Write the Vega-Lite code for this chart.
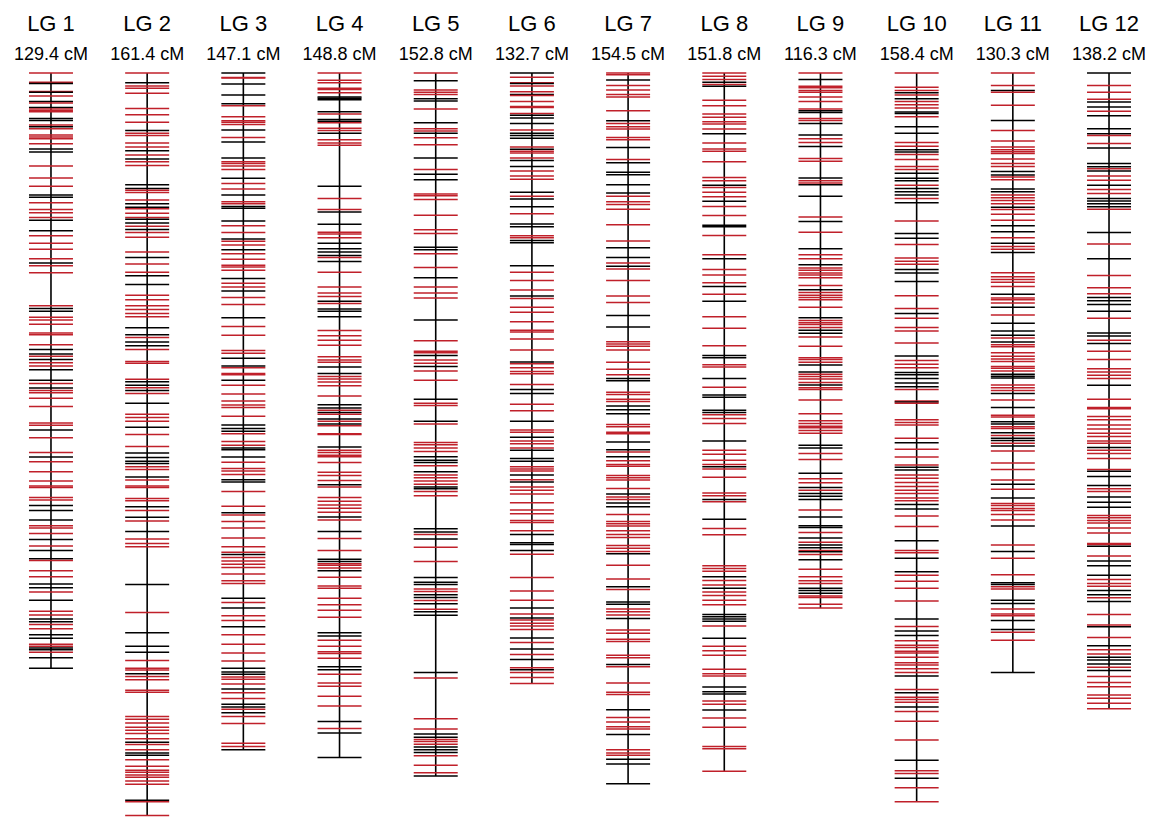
{
"$schema":"https://vega.github.io/schema/vega-lite/v6.json",
"width":1160,"height":820,"padding":0,
"autosize":{"type":"fit","contains":"padding"},
"config":{"view":{"stroke":null},"font":"Liberation Sans"},
"datasets":{
"groups":[
{"lg":1,"name":"LG 1","length":129.4,"label":"129.4 cM"},
{"lg":2,"name":"LG 2","length":161.4,"label":"161.4 cM"},
{"lg":3,"name":"LG 3","length":147.1,"label":"147.1 cM"},
{"lg":4,"name":"LG 4","length":148.8,"label":"148.8 cM"},
{"lg":5,"name":"LG 5","length":152.8,"label":"152.8 cM"},
{"lg":6,"name":"LG 6","length":132.7,"label":"132.7 cM"},
{"lg":7,"name":"LG 7","length":154.5,"label":"154.5 cM"},
{"lg":8,"name":"LG 8","length":151.8,"label":"151.8 cM"},
{"lg":9,"name":"LG 9","length":116.3,"label":"116.3 cM"},
{"lg":10,"name":"LG 10","length":158.4,"label":"158.4 cM"},
{"lg":11,"name":"LG 11","length":130.3,"label":"130.3 cM"},
{"lg":12,"name":"LG 12","length":138.2,"label":"138.2 cM"}
],
"markers":[
{"lg":1,"cM":0,"m":"r"},{"lg":1,"cM":2.0,"m":"r"},{"lg":1,"cM":2.3,"m":"b"},{"lg":1,"cM":4.0,"m":"r"},{"lg":1,"cM":4.2,"m":"b"},{"lg":1,"cM":5.0,"m":"r"},{"lg":1,"cM":6.2,"m":"b"},{"lg":1,"cM":6.5,"m":"r"},{"lg":1,"cM":7.5,"m":"b"},{"lg":1,"cM":7.8,"m":"r"},{"lg":1,"cM":8.2,"m":"r"},{"lg":1,"cM":8.4,"m":"r"},{"lg":1,"cM":9.9,"m":"b"},{"lg":1,"cM":10.3,"m":"b"},{"lg":1,"cM":11.3,"m":"r"},{"lg":1,"cM":11.7,"m":"b"},{"lg":1,"cM":12.1,"m":"r"},{"lg":1,"cM":13.5,"m":"r"},{"lg":1,"cM":13.9,"m":"r"},{"lg":1,"cM":14.3,"m":"r"},{"lg":1,"cM":15.4,"m":"r"},{"lg":1,"cM":16.5,"m":"b"},{"lg":1,"cM":17.2,"m":"b"},{"lg":1,"cM":20.2,"m":"r"},{"lg":1,"cM":22.8,"m":"r"},{"lg":1,"cM":24.6,"m":"r"},{"lg":1,"cM":26.5,"m":"b"},{"lg":1,"cM":27.0,"m":"b"},{"lg":1,"cM":28.2,"m":"r"},{"lg":1,"cM":29.7,"m":"r"},{"lg":1,"cM":30.4,"m":"r"},{"lg":1,"cM":31.4,"m":"r"},{"lg":1,"cM":32.0,"m":"b"},{"lg":1,"cM":34.3,"m":"b"},{"lg":1,"cM":35.4,"m":"r"},{"lg":1,"cM":37.0,"m":"r"},{"lg":1,"cM":38.3,"m":"r"},{"lg":1,"cM":40.4,"m":"r"},{"lg":1,"cM":41.3,"m":"b"},{"lg":1,"cM":41.9,"m":"r"},{"lg":1,"cM":43.4,"m":"r"},{"lg":1,"cM":50.6,"m":"r"},{"lg":1,"cM":51.2,"m":"b"},{"lg":1,"cM":51.8,"m":"b"},{"lg":1,"cM":53.1,"m":"r"},{"lg":1,"cM":53.7,"m":"r"},{"lg":1,"cM":54.6,"m":"r"},{"lg":1,"cM":56.5,"m":"r"},{"lg":1,"cM":56.9,"m":"r"},{"lg":1,"cM":59.1,"m":"r"},{"lg":1,"cM":60.1,"m":"b"},{"lg":1,"cM":61.1,"m":"b"},{"lg":1,"cM":61.6,"m":"r"},{"lg":1,"cM":62.3,"m":"b"},{"lg":1,"cM":63.0,"m":"r"},{"lg":1,"cM":63.7,"m":"r"},{"lg":1,"cM":64.5,"m":"b"},{"lg":1,"cM":66.8,"m":"b"},{"lg":1,"cM":67.5,"m":"r"},{"lg":1,"cM":68.5,"m":"b"},{"lg":1,"cM":69.0,"m":"r"},{"lg":1,"cM":69.5,"m":"r"},{"lg":1,"cM":70.7,"m":"r"},{"lg":1,"cM":72.5,"m":"r"},{"lg":1,"cM":76.1,"m":"r"},{"lg":1,"cM":76.6,"m":"r"},{"lg":1,"cM":77.6,"m":"b"},{"lg":1,"cM":79.3,"m":"r"},{"lg":1,"cM":82.5,"m":"r"},{"lg":1,"cM":83.5,"m":"b"},{"lg":1,"cM":84.5,"m":"r"},{"lg":1,"cM":86.7,"m":"r"},{"lg":1,"cM":88.7,"m":"r"},{"lg":1,"cM":89.8,"m":"r"},{"lg":1,"cM":90.1,"m":"r"},{"lg":1,"cM":92.3,"m":"r"},{"lg":1,"cM":92.8,"m":"r"},{"lg":1,"cM":94.0,"m":"b"},{"lg":1,"cM":95.1,"m":"b"},{"lg":1,"cM":97.2,"m":"b"},{"lg":1,"cM":98.4,"m":"r"},{"lg":1,"cM":98.9,"m":"r"},{"lg":1,"cM":100.1,"m":"r"},{"lg":1,"cM":101.4,"m":"b"},{"lg":1,"cM":102.8,"m":"r"},{"lg":1,"cM":103.8,"m":"b"},{"lg":1,"cM":105.6,"m":"b"},{"lg":1,"cM":106.0,"m":"r"},{"lg":1,"cM":108.2,"m":"r"},{"lg":1,"cM":109.5,"m":"r"},{"lg":1,"cM":111.1,"m":"b"},{"lg":1,"cM":111.9,"m":"b"},{"lg":1,"cM":112.8,"m":"r"},{"lg":1,"cM":114.6,"m":"b"},{"lg":1,"cM":117.0,"m":"r"},{"lg":1,"cM":117.8,"m":"r"},{"lg":1,"cM":118.7,"m":"b"},{"lg":1,"cM":119.3,"m":"b"},{"lg":1,"cM":119.9,"m":"r"},{"lg":1,"cM":120.8,"m":"r"},{"lg":1,"cM":122.1,"m":"b"},{"lg":1,"cM":122.9,"m":"b"},{"lg":1,"cM":124.2,"m":"r"},{"lg":1,"cM":124.6,"m":"r"},{"lg":1,"cM":125.0,"m":"b"},{"lg":1,"cM":125.4,"m":"b"},{"lg":1,"cM":125.9,"m":"r"},{"lg":1,"cM":127.1,"m":"b"},{"lg":1,"cM":129.4,"m":"b"},
{"lg":2,"cM":0,"m":"r"},{"lg":2,"cM":2.1,"m":"b"},{"lg":2,"cM":2.8,"m":"r"},{"lg":2,"cM":3.3,"m":"r"},{"lg":2,"cM":4.4,"m":"r"},{"lg":2,"cM":7.7,"m":"r"},{"lg":2,"cM":9.1,"m":"r"},{"lg":2,"cM":10.7,"m":"r"},{"lg":2,"cM":12.5,"m":"b"},{"lg":2,"cM":13.1,"m":"r"},{"lg":2,"cM":13.6,"m":"r"},{"lg":2,"cM":15.2,"m":"r"},{"lg":2,"cM":16.1,"m":"r"},{"lg":2,"cM":16.9,"m":"b"},{"lg":2,"cM":17.8,"m":"r"},{"lg":2,"cM":18.7,"m":"b"},{"lg":2,"cM":19.3,"m":"r"},{"lg":2,"cM":20.1,"m":"r"},{"lg":2,"cM":24.3,"m":"b"},{"lg":2,"cM":25.1,"m":"b"},{"lg":2,"cM":25.5,"m":"r"},{"lg":2,"cM":26.0,"m":"r"},{"lg":2,"cM":27.6,"m":"r"},{"lg":2,"cM":28.4,"m":"b"},{"lg":2,"cM":29.2,"m":"b"},{"lg":2,"cM":29.5,"m":"r"},{"lg":2,"cM":30.5,"m":"r"},{"lg":2,"cM":31.4,"m":"r"},{"lg":2,"cM":31.8,"m":"b"},{"lg":2,"cM":32.6,"m":"b"},{"lg":2,"cM":33.3,"m":"r"},{"lg":2,"cM":34.0,"m":"b"},{"lg":2,"cM":34.7,"m":"r"},{"lg":2,"cM":35.7,"m":"r"},{"lg":2,"cM":38.9,"m":"r"},{"lg":2,"cM":40.1,"m":"b"},{"lg":2,"cM":41.5,"m":"r"},{"lg":2,"cM":43.3,"m":"r"},{"lg":2,"cM":44.1,"m":"b"},{"lg":2,"cM":46.0,"m":"b"},{"lg":2,"cM":48.3,"m":"r"},{"lg":2,"cM":49.3,"m":"r"},{"lg":2,"cM":50.6,"m":"r"},{"lg":2,"cM":51.4,"m":"r"},{"lg":2,"cM":52.3,"m":"r"},{"lg":2,"cM":53.0,"m":"r"},{"lg":2,"cM":55.4,"m":"b"},{"lg":2,"cM":56.9,"m":"b"},{"lg":2,"cM":57.5,"m":"r"},{"lg":2,"cM":58.5,"m":"b"},{"lg":2,"cM":59.3,"m":"b"},{"lg":2,"cM":60.1,"m":"r"},{"lg":2,"cM":62.7,"m":"r"},{"lg":2,"cM":63.1,"m":"r"},{"lg":2,"cM":66.6,"m":"r"},{"lg":2,"cM":67.1,"m":"b"},{"lg":2,"cM":67.9,"m":"b"},{"lg":2,"cM":68.4,"m":"r"},{"lg":2,"cM":69.0,"m":"b"},{"lg":2,"cM":69.7,"m":"r"},{"lg":2,"cM":71.8,"m":"b"},{"lg":2,"cM":74.2,"m":"r"},{"lg":2,"cM":74.9,"m":"r"},{"lg":2,"cM":75.7,"m":"r"},{"lg":2,"cM":77.0,"m":"b"},{"lg":2,"cM":78.6,"m":"r"},{"lg":2,"cM":81.2,"m":"r"},{"lg":2,"cM":82.6,"m":"b"},{"lg":2,"cM":83.6,"m":"b"},{"lg":2,"cM":84.4,"m":"b"},{"lg":2,"cM":84.9,"m":"b"},{"lg":2,"cM":85.6,"m":"r"},{"lg":2,"cM":86.2,"m":"r"},{"lg":2,"cM":87.8,"m":"b"},{"lg":2,"cM":88.5,"m":"r"},{"lg":2,"cM":89.8,"m":"r"},{"lg":2,"cM":90.1,"m":"r"},{"lg":2,"cM":92.5,"m":"r"},{"lg":2,"cM":93.0,"m":"r"},{"lg":2,"cM":94.3,"m":"b"},{"lg":2,"cM":95.1,"m":"r"},{"lg":2,"cM":96.6,"m":"b"},{"lg":2,"cM":97.4,"m":"r"},{"lg":2,"cM":99.7,"m":"b"},{"lg":2,"cM":101.3,"m":"r"},{"lg":2,"cM":102.3,"m":"r"},{"lg":2,"cM":103.0,"m":"r"},{"lg":2,"cM":111.2,"m":"b"},{"lg":2,"cM":117.3,"m":"r"},{"lg":2,"cM":121.7,"m":"b"},{"lg":2,"cM":124.6,"m":"b"},{"lg":2,"cM":125.9,"m":"b"},{"lg":2,"cM":127.7,"m":"r"},{"lg":2,"cM":129.4,"m":"r"},{"lg":2,"cM":129.8,"m":"r"},{"lg":2,"cM":130.6,"m":"b"},{"lg":2,"cM":131.2,"m":"r"},{"lg":2,"cM":131.9,"m":"r"},{"lg":2,"cM":134.2,"m":"r"},{"lg":2,"cM":134.6,"m":"r"},{"lg":2,"cM":139.9,"m":"r"},{"lg":2,"cM":140.5,"m":"r"},{"lg":2,"cM":141.3,"m":"r"},{"lg":2,"cM":142.2,"m":"r"},{"lg":2,"cM":142.9,"m":"r"},{"lg":2,"cM":143.6,"m":"r"},{"lg":2,"cM":144.7,"m":"r"},{"lg":2,"cM":145.5,"m":"b"},{"lg":2,"cM":146.0,"m":"r"},{"lg":2,"cM":147.1,"m":"r"},{"lg":2,"cM":147.8,"m":"b"},{"lg":2,"cM":148.3,"m":"b"},{"lg":2,"cM":149.3,"m":"r"},{"lg":2,"cM":150.7,"m":"r"},{"lg":2,"cM":151.6,"m":"r"},{"lg":2,"cM":152.0,"m":"r"},{"lg":2,"cM":152.6,"m":"r"},{"lg":2,"cM":153.1,"m":"r"},{"lg":2,"cM":153.9,"m":"r"},{"lg":2,"cM":154.6,"m":"r"},{"lg":2,"cM":158.1,"m":"b"},{"lg":2,"cM":158.4,"m":"r"},{"lg":2,"cM":161.4,"m":"r"},
{"lg":3,"cM":0,"m":"b"},{"lg":3,"cM":1.0,"m":"r"},{"lg":3,"cM":1.1,"m":"r"},{"lg":3,"cM":2.4,"m":"b"},{"lg":3,"cM":4.8,"m":"b"},{"lg":3,"cM":6.7,"m":"b"},{"lg":3,"cM":7.1,"m":"r"},{"lg":3,"cM":9.5,"m":"r"},{"lg":3,"cM":10.4,"m":"r"},{"lg":3,"cM":10.7,"m":"r"},{"lg":3,"cM":11.2,"m":"r"},{"lg":3,"cM":12.4,"m":"b"},{"lg":3,"cM":14.0,"m":"r"},{"lg":3,"cM":15.0,"m":"b"},{"lg":3,"cM":18.5,"m":"b"},{"lg":3,"cM":19.3,"m":"r"},{"lg":3,"cM":19.7,"m":"r"},{"lg":3,"cM":20.2,"m":"r"},{"lg":3,"cM":21.0,"m":"r"},{"lg":3,"cM":22.9,"m":"b"},{"lg":3,"cM":24.0,"m":"r"},{"lg":3,"cM":25.2,"m":"r"},{"lg":3,"cM":26.5,"m":"b"},{"lg":3,"cM":28.0,"m":"r"},{"lg":3,"cM":28.4,"m":"r"},{"lg":3,"cM":29.0,"m":"b"},{"lg":3,"cM":29.4,"m":"b"},{"lg":3,"cM":32.2,"m":"b"},{"lg":3,"cM":33.2,"m":"r"},{"lg":3,"cM":34.7,"m":"r"},{"lg":3,"cM":36.1,"m":"b"},{"lg":3,"cM":36.6,"m":"r"},{"lg":3,"cM":37.4,"m":"r"},{"lg":3,"cM":38.4,"m":"b"},{"lg":3,"cM":39.3,"m":"r"},{"lg":3,"cM":40.5,"m":"r"},{"lg":3,"cM":41.8,"m":"r"},{"lg":3,"cM":42.2,"m":"r"},{"lg":3,"cM":42.9,"m":"r"},{"lg":3,"cM":44.7,"m":"b"},{"lg":3,"cM":45.7,"m":"r"},{"lg":3,"cM":46.5,"m":"r"},{"lg":3,"cM":47.4,"m":"b"},{"lg":3,"cM":48.8,"m":"r"},{"lg":3,"cM":50.3,"m":"r"},{"lg":3,"cM":53.2,"m":"b"},{"lg":3,"cM":55.1,"m":"r"},{"lg":3,"cM":57.0,"m":"r"},{"lg":3,"cM":60.3,"m":"r"},{"lg":3,"cM":60.9,"m":"r"},{"lg":3,"cM":62.0,"m":"b"},{"lg":3,"cM":63.7,"m":"b"},{"lg":3,"cM":64.1,"m":"r"},{"lg":3,"cM":65.3,"m":"r"},{"lg":3,"cM":65.6,"m":"r"},{"lg":3,"cM":66.8,"m":"b"},{"lg":3,"cM":67.9,"m":"r"},{"lg":3,"cM":69.8,"m":"r"},{"lg":3,"cM":71.3,"m":"r"},{"lg":3,"cM":72.2,"m":"r"},{"lg":3,"cM":72.7,"m":"r"},{"lg":3,"cM":74.6,"m":"r"},{"lg":3,"cM":76.5,"m":"b"},{"lg":3,"cM":77.3,"m":"b"},{"lg":3,"cM":77.9,"m":"b"},{"lg":3,"cM":78.4,"m":"r"},{"lg":3,"cM":80.1,"m":"r"},{"lg":3,"cM":80.9,"m":"r"},{"lg":3,"cM":81.5,"m":"b"},{"lg":3,"cM":81.9,"m":"b"},{"lg":3,"cM":83.5,"m":"b"},{"lg":3,"cM":84.6,"m":"r"},{"lg":3,"cM":86.0,"m":"r"},{"lg":3,"cM":86.5,"m":"r"},{"lg":3,"cM":87.3,"m":"r"},{"lg":3,"cM":88.4,"m":"b"},{"lg":3,"cM":88.9,"m":"b"},{"lg":3,"cM":91.0,"m":"r"},{"lg":3,"cM":94.2,"m":"r"},{"lg":3,"cM":95.6,"m":"b"},{"lg":3,"cM":96.1,"m":"r"},{"lg":3,"cM":97.5,"m":"r"},{"lg":3,"cM":98.9,"m":"r"},{"lg":3,"cM":101.1,"m":"r"},{"lg":3,"cM":103.0,"m":"r"},{"lg":3,"cM":104.2,"m":"r"},{"lg":3,"cM":104.7,"m":"b"},{"lg":3,"cM":105.3,"m":"r"},{"lg":3,"cM":106.1,"m":"r"},{"lg":3,"cM":106.8,"m":"r"},{"lg":3,"cM":107.5,"m":"r"},{"lg":3,"cM":108.9,"m":"r"},{"lg":3,"cM":110.4,"m":"r"},{"lg":3,"cM":111.0,"m":"r"},{"lg":3,"cM":114.2,"m":"b"},{"lg":3,"cM":115.1,"m":"r"},{"lg":3,"cM":116.3,"m":"b"},{"lg":3,"cM":118.0,"m":"r"},{"lg":3,"cM":119.0,"m":"r"},{"lg":3,"cM":120.4,"m":"b"},{"lg":3,"cM":122.1,"m":"r"},{"lg":3,"cM":124.2,"m":"r"},{"lg":3,"cM":126.1,"m":"r"},{"lg":3,"cM":127.8,"m":"r"},{"lg":3,"cM":129.4,"m":"b"},{"lg":3,"cM":130.2,"m":"b"},{"lg":3,"cM":130.7,"m":"b"},{"lg":3,"cM":131.3,"m":"r"},{"lg":3,"cM":131.8,"m":"r"},{"lg":3,"cM":132.8,"m":"r"},{"lg":3,"cM":133.9,"m":"b"},{"lg":3,"cM":134.7,"m":"r"},{"lg":3,"cM":136.0,"m":"r"},{"lg":3,"cM":137.2,"m":"b"},{"lg":3,"cM":137.8,"m":"b"},{"lg":3,"cM":138.3,"m":"r"},{"lg":3,"cM":139.1,"m":"b"},{"lg":3,"cM":139.9,"m":"r"},{"lg":3,"cM":141.4,"m":"r"},{"lg":3,"cM":145.7,"m":"r"},{"lg":3,"cM":146.4,"m":"r"},{"lg":3,"cM":147.1,"m":"b"},
{"lg":4,"cM":0,"m":"r"},{"lg":4,"cM":1.6,"m":"r"},{"lg":4,"cM":2.1,"m":"r"},{"lg":4,"cM":3.3,"m":"r"},{"lg":4,"cM":3.6,"m":"r"},{"lg":4,"cM":4.3,"m":"r"},{"lg":4,"cM":5.2,"m":"b"},{"lg":4,"cM":5.5,"m":"b"},{"lg":4,"cM":5.8,"m":"b"},{"lg":4,"cM":8.4,"m":"b"},{"lg":4,"cM":8.9,"m":"r"},{"lg":4,"cM":10.1,"m":"b"},{"lg":4,"cM":10.5,"m":"b"},{"lg":4,"cM":10.8,"m":"r"},{"lg":4,"cM":12.0,"m":"r"},{"lg":4,"cM":12.5,"m":"r"},{"lg":4,"cM":13.1,"m":"b"},{"lg":4,"cM":14.5,"m":"r"},{"lg":4,"cM":15.2,"m":"r"},{"lg":4,"cM":15.7,"m":"r"},{"lg":4,"cM":24.6,"m":"b"},{"lg":4,"cM":27.3,"m":"r"},{"lg":4,"cM":29.7,"m":"r"},{"lg":4,"cM":30.2,"m":"b"},{"lg":4,"cM":32.9,"m":"b"},{"lg":4,"cM":34.6,"m":"r"},{"lg":4,"cM":35.0,"m":"r"},{"lg":4,"cM":35.8,"m":"r"},{"lg":4,"cM":37.0,"m":"b"},{"lg":4,"cM":38.2,"m":"b"},{"lg":4,"cM":38.9,"m":"b"},{"lg":4,"cM":39.7,"m":"b"},{"lg":4,"cM":40.1,"m":"r"},{"lg":4,"cM":41.0,"m":"b"},{"lg":4,"cM":43.3,"m":"r"},{"lg":4,"cM":46.5,"m":"r"},{"lg":4,"cM":47.8,"m":"r"},{"lg":4,"cM":48.6,"m":"r"},{"lg":4,"cM":49.6,"m":"b"},{"lg":4,"cM":50.1,"m":"r"},{"lg":4,"cM":51.3,"m":"b"},{"lg":4,"cM":51.8,"m":"b"},{"lg":4,"cM":53.0,"m":"b"},{"lg":4,"cM":56.0,"m":"r"},{"lg":4,"cM":57.1,"m":"r"},{"lg":4,"cM":58.1,"m":"r"},{"lg":4,"cM":59.2,"m":"r"},{"lg":4,"cM":61.7,"m":"r"},{"lg":4,"cM":62.4,"m":"r"},{"lg":4,"cM":62.9,"m":"r"},{"lg":4,"cM":63.9,"m":"b"},{"lg":4,"cM":65.3,"m":"b"},{"lg":4,"cM":66.0,"m":"r"},{"lg":4,"cM":66.5,"m":"r"},{"lg":4,"cM":67.2,"m":"r"},{"lg":4,"cM":68.0,"m":"r"},{"lg":4,"cM":70.2,"m":"r"},{"lg":4,"cM":72.1,"m":"b"},{"lg":4,"cM":72.8,"m":"b"},{"lg":4,"cM":73.3,"m":"r"},{"lg":4,"cM":73.8,"m":"b"},{"lg":4,"cM":74.2,"m":"r"},{"lg":4,"cM":75.2,"m":"b"},{"lg":4,"cM":75.7,"m":"r"},{"lg":4,"cM":76.3,"m":"b"},{"lg":4,"cM":76.7,"m":"r"},{"lg":4,"cM":78.4,"m":"r"},{"lg":4,"cM":78.6,"m":"r"},{"lg":4,"cM":81.3,"m":"b"},{"lg":4,"cM":82.0,"m":"r"},{"lg":4,"cM":82.5,"m":"r"},{"lg":4,"cM":83.1,"m":"r"},{"lg":4,"cM":83.4,"m":"r"},{"lg":4,"cM":84.7,"m":"r"},{"lg":4,"cM":86.8,"m":"r"},{"lg":4,"cM":87.5,"m":"r"},{"lg":4,"cM":88.6,"m":"r"},{"lg":4,"cM":89.5,"m":"b"},{"lg":4,"cM":90.0,"m":"r"},{"lg":4,"cM":92.3,"m":"r"},{"lg":4,"cM":93.1,"m":"r"},{"lg":4,"cM":93.9,"m":"r"},{"lg":4,"cM":94.6,"m":"r"},{"lg":4,"cM":95.5,"m":"r"},{"lg":4,"cM":96.5,"m":"b"},{"lg":4,"cM":97.2,"m":"r"},{"lg":4,"cM":99.7,"m":"b"},{"lg":4,"cM":101.2,"m":"r"},{"lg":4,"cM":103.8,"m":"r"},{"lg":4,"cM":105.7,"m":"b"},{"lg":4,"cM":106.2,"m":"b"},{"lg":4,"cM":106.7,"m":"r"},{"lg":4,"cM":107.0,"m":"r"},{"lg":4,"cM":107.6,"m":"r"},{"lg":4,"cM":108.2,"m":"b"},{"lg":4,"cM":109.6,"m":"r"},{"lg":4,"cM":111.5,"m":"r"},{"lg":4,"cM":112.0,"m":"r"},{"lg":4,"cM":114.2,"m":"r"},{"lg":4,"cM":115.6,"m":"r"},{"lg":4,"cM":116.8,"m":"r"},{"lg":4,"cM":118.3,"m":"r"},{"lg":4,"cM":121.7,"m":"b"},{"lg":4,"cM":122.4,"m":"b"},{"lg":4,"cM":123.3,"m":"r"},{"lg":4,"cM":124.6,"m":"r"},{"lg":4,"cM":125.8,"m":"r"},{"lg":4,"cM":126.2,"m":"r"},{"lg":4,"cM":127.2,"m":"r"},{"lg":4,"cM":129.1,"m":"b"},{"lg":4,"cM":129.7,"m":"b"},{"lg":4,"cM":130.7,"m":"r"},{"lg":4,"cM":132.6,"m":"r"},{"lg":4,"cM":133.3,"m":"r"},{"lg":4,"cM":135.5,"m":"r"},{"lg":4,"cM":137.6,"m":"r"},{"lg":4,"cM":141.0,"m":"b"},{"lg":4,"cM":142.5,"m":"r"},{"lg":4,"cM":143.5,"m":"b"},{"lg":4,"cM":148.8,"m":"b"},
{"lg":5,"cM":0,"m":"r"},{"lg":5,"cM":1.7,"m":"b"},{"lg":5,"cM":3.7,"m":"r"},{"lg":5,"cM":4.2,"m":"r"},{"lg":5,"cM":4.7,"m":"r"},{"lg":5,"cM":5.6,"m":"b"},{"lg":5,"cM":6.1,"m":"b"},{"lg":5,"cM":7.8,"m":"r"},{"lg":5,"cM":10.8,"m":"b"},{"lg":5,"cM":12.1,"m":"r"},{"lg":5,"cM":12.6,"m":"r"},{"lg":5,"cM":13.1,"m":"b"},{"lg":5,"cM":14.1,"m":"r"},{"lg":5,"cM":15.6,"m":"r"},{"lg":5,"cM":18.5,"m":"b"},{"lg":5,"cM":21.0,"m":"r"},{"lg":5,"cM":22.0,"m":"b"},{"lg":5,"cM":23.2,"m":"b"},{"lg":5,"cM":26.3,"m":"r"},{"lg":5,"cM":26.7,"m":"r"},{"lg":5,"cM":27.5,"m":"r"},{"lg":5,"cM":30.9,"m":"r"},{"lg":5,"cM":34.1,"m":"r"},{"lg":5,"cM":34.9,"m":"r"},{"lg":5,"cM":37.9,"m":"b"},{"lg":5,"cM":38.4,"m":"b"},{"lg":5,"cM":39.3,"m":"r"},{"lg":5,"cM":42.3,"m":"r"},{"lg":5,"cM":44.5,"m":"b"},{"lg":5,"cM":46.5,"m":"r"},{"lg":5,"cM":47.8,"m":"r"},{"lg":5,"cM":48.9,"m":"r"},{"lg":5,"cM":53.7,"m":"b"},{"lg":5,"cM":58.2,"m":"r"},{"lg":5,"cM":60.5,"m":"r"},{"lg":5,"cM":60.8,"m":"r"},{"lg":5,"cM":61.4,"m":"b"},{"lg":5,"cM":62.4,"m":"r"},{"lg":5,"cM":63.1,"m":"r"},{"lg":5,"cM":63.8,"m":"b"},{"lg":5,"cM":64.8,"m":"r"},{"lg":5,"cM":66.8,"m":"r"},{"lg":5,"cM":70.9,"m":"b"},{"lg":5,"cM":71.8,"m":"r"},{"lg":5,"cM":72.3,"m":"r"},{"lg":5,"cM":75.7,"m":"b"},{"lg":5,"cM":76.3,"m":"r"},{"lg":5,"cM":80.3,"m":"r"},{"lg":5,"cM":80.8,"m":"r"},{"lg":5,"cM":81.5,"m":"r"},{"lg":5,"cM":82.3,"m":"r"},{"lg":5,"cM":83.4,"m":"b"},{"lg":5,"cM":84.2,"m":"b"},{"lg":5,"cM":84.7,"m":"b"},{"lg":5,"cM":85.4,"m":"r"},{"lg":5,"cM":86.7,"m":"b"},{"lg":5,"cM":87.4,"m":"r"},{"lg":5,"cM":88.0,"m":"r"},{"lg":5,"cM":88.7,"m":"r"},{"lg":5,"cM":89.4,"m":"r"},{"lg":5,"cM":90.0,"m":"b"},{"lg":5,"cM":90.4,"m":"b"},{"lg":5,"cM":91.0,"m":"r"},{"lg":5,"cM":91.9,"m":"r"},{"lg":5,"cM":99.1,"m":"b"},{"lg":5,"cM":99.8,"m":"b"},{"lg":5,"cM":100.3,"m":"r"},{"lg":5,"cM":101.3,"m":"b"},{"lg":5,"cM":103.1,"m":"r"},{"lg":5,"cM":106.2,"m":"r"},{"lg":5,"cM":109.7,"m":"b"},{"lg":5,"cM":110.7,"m":"b"},{"lg":5,"cM":111.2,"m":"b"},{"lg":5,"cM":112.2,"m":"r"},{"lg":5,"cM":112.7,"m":"r"},{"lg":5,"cM":113.4,"m":"b"},{"lg":5,"cM":114.0,"m":"b"},{"lg":5,"cM":114.7,"m":"r"},{"lg":5,"cM":115.4,"m":"b"},{"lg":5,"cM":116.6,"m":"r"},{"lg":5,"cM":117.1,"m":"b"},{"lg":5,"cM":117.9,"m":"b"},{"lg":5,"cM":130.3,"m":"b"},{"lg":5,"cM":131.5,"m":"r"},{"lg":5,"cM":140.4,"m":"r"},{"lg":5,"cM":142.6,"m":"r"},{"lg":5,"cM":143.7,"m":"b"},{"lg":5,"cM":144.4,"m":"b"},{"lg":5,"cM":144.9,"m":"r"},{"lg":5,"cM":145.3,"m":"r"},{"lg":5,"cM":145.9,"m":"r"},{"lg":5,"cM":146.5,"m":"b"},{"lg":5,"cM":147.1,"m":"b"},{"lg":5,"cM":147.7,"m":"b"},{"lg":5,"cM":148.4,"m":"r"},{"lg":5,"cM":150.5,"m":"r"},{"lg":5,"cM":152.1,"m":"r"},{"lg":5,"cM":152.8,"m":"b"},
{"lg":6,"cM":0,"m":"b"},{"lg":6,"cM":0.9,"m":"r"},{"lg":6,"cM":2.1,"m":"r"},{"lg":6,"cM":2.3,"m":"b"},{"lg":6,"cM":2.8,"m":"r"},{"lg":6,"cM":4.1,"m":"r"},{"lg":6,"cM":4.7,"m":"b"},{"lg":6,"cM":4.9,"m":"r"},{"lg":6,"cM":6.2,"m":"r"},{"lg":6,"cM":7.3,"m":"r"},{"lg":6,"cM":7.5,"m":"r"},{"lg":6,"cM":8.8,"m":"r"},{"lg":6,"cM":9.2,"m":"b"},{"lg":6,"cM":9.8,"m":"b"},{"lg":6,"cM":11.0,"m":"b"},{"lg":6,"cM":12.4,"m":"r"},{"lg":6,"cM":13.1,"m":"b"},{"lg":6,"cM":13.6,"m":"b"},{"lg":6,"cM":14.2,"m":"b"},{"lg":6,"cM":16.1,"m":"r"},{"lg":6,"cM":16.6,"m":"b"},{"lg":6,"cM":17.0,"m":"r"},{"lg":6,"cM":17.4,"m":"r"},{"lg":6,"cM":18.5,"m":"r"},{"lg":6,"cM":19.0,"m":"b"},{"lg":6,"cM":20.3,"m":"b"},{"lg":6,"cM":21.3,"m":"r"},{"lg":6,"cM":22.4,"m":"r"},{"lg":6,"cM":23.1,"m":"r"},{"lg":6,"cM":25.9,"m":"b"},{"lg":6,"cM":26.8,"m":"r"},{"lg":6,"cM":27.4,"m":"b"},{"lg":6,"cM":29.1,"m":"b"},{"lg":6,"cM":30.6,"m":"r"},{"lg":6,"cM":32.8,"m":"b"},{"lg":6,"cM":33.4,"m":"b"},{"lg":6,"cM":35.4,"m":"r"},{"lg":6,"cM":35.8,"m":"r"},{"lg":6,"cM":36.4,"m":"b"},{"lg":6,"cM":36.9,"m":"b"},{"lg":6,"cM":41.9,"m":"b"},{"lg":6,"cM":43.3,"m":"r"},{"lg":6,"cM":45.1,"m":"r"},{"lg":6,"cM":47.2,"m":"r"},{"lg":6,"cM":48.5,"m":"b"},{"lg":6,"cM":49.0,"m":"r"},{"lg":6,"cM":50.9,"m":"r"},{"lg":6,"cM":52.0,"m":"r"},{"lg":6,"cM":54.1,"m":"r"},{"lg":6,"cM":55.9,"m":"r"},{"lg":6,"cM":56.3,"m":"r"},{"lg":6,"cM":57.8,"m":"r"},{"lg":6,"cM":60.2,"m":"r"},{"lg":6,"cM":62.8,"m":"b"},{"lg":6,"cM":63.2,"m":"r"},{"lg":6,"cM":64.1,"m":"r"},{"lg":6,"cM":64.9,"m":"r"},{"lg":6,"cM":65.4,"m":"r"},{"lg":6,"cM":67.7,"m":"r"},{"lg":6,"cM":68.8,"m":"b"},{"lg":6,"cM":69.7,"m":"b"},{"lg":6,"cM":72.0,"m":"r"},{"lg":6,"cM":73.4,"m":"r"},{"lg":6,"cM":75.7,"m":"b"},{"lg":6,"cM":77.6,"m":"r"},{"lg":6,"cM":78.1,"m":"r"},{"lg":6,"cM":79.2,"m":"b"},{"lg":6,"cM":80.0,"m":"r"},{"lg":6,"cM":80.6,"m":"r"},{"lg":6,"cM":81.5,"m":"r"},{"lg":6,"cM":82.0,"m":"b"},{"lg":6,"cM":83.8,"m":"b"},{"lg":6,"cM":84.4,"m":"b"},{"lg":6,"cM":85.6,"m":"r"},{"lg":6,"cM":86.1,"m":"r"},{"lg":6,"cM":86.5,"m":"r"},{"lg":6,"cM":87.4,"m":"b"},{"lg":6,"cM":88.4,"m":"r"},{"lg":6,"cM":88.9,"m":"b"},{"lg":6,"cM":90.0,"m":"r"},{"lg":6,"cM":90.7,"m":"r"},{"lg":6,"cM":91.5,"m":"r"},{"lg":6,"cM":93.4,"m":"r"},{"lg":6,"cM":95.0,"m":"r"},{"lg":6,"cM":95.8,"m":"r"},{"lg":6,"cM":97.3,"m":"r"},{"lg":6,"cM":97.7,"m":"r"},{"lg":6,"cM":99.5,"m":"r"},{"lg":6,"cM":100.3,"m":"b"},{"lg":6,"cM":102.1,"m":"b"},{"lg":6,"cM":102.5,"m":"b"},{"lg":6,"cM":103.8,"m":"b"},{"lg":6,"cM":104.6,"m":"r"},{"lg":6,"cM":109.7,"m":"r"},{"lg":6,"cM":112.6,"m":"r"},{"lg":6,"cM":114.6,"m":"r"},{"lg":6,"cM":116.3,"m":"b"},{"lg":6,"cM":117.6,"m":"r"},{"lg":6,"cM":118.5,"m":"b"},{"lg":6,"cM":118.9,"m":"r"},{"lg":6,"cM":119.6,"m":"r"},{"lg":6,"cM":120.2,"m":"r"},{"lg":6,"cM":121.0,"m":"r"},{"lg":6,"cM":122.8,"m":"b"},{"lg":6,"cM":123.8,"m":"r"},{"lg":6,"cM":125.2,"m":"b"},{"lg":6,"cM":126.4,"m":"r"},{"lg":6,"cM":127.5,"m":"b"},{"lg":6,"cM":129.3,"m":"r"},{"lg":6,"cM":129.7,"m":"b"},{"lg":6,"cM":130.3,"m":"r"},{"lg":6,"cM":131.4,"m":"r"},{"lg":6,"cM":132.7,"m":"r"},
{"lg":7,"cM":0,"m":"r"},{"lg":7,"cM":0.4,"m":"r"},{"lg":7,"cM":1.5,"m":"b"},{"lg":7,"cM":2.7,"m":"r"},{"lg":7,"cM":3.7,"m":"r"},{"lg":7,"cM":4.7,"m":"r"},{"lg":7,"cM":5.2,"m":"r"},{"lg":7,"cM":8.2,"m":"r"},{"lg":7,"cM":10.4,"m":"b"},{"lg":7,"cM":11.0,"m":"r"},{"lg":7,"cM":11.7,"m":"r"},{"lg":7,"cM":12.2,"m":"r"},{"lg":7,"cM":14.0,"m":"r"},{"lg":7,"cM":14.5,"m":"r"},{"lg":7,"cM":16.2,"m":"b"},{"lg":7,"cM":18.8,"m":"r"},{"lg":7,"cM":19.5,"m":"b"},{"lg":7,"cM":21.6,"m":"b"},{"lg":7,"cM":22.1,"m":"b"},{"lg":7,"cM":24.3,"m":"b"},{"lg":7,"cM":26.1,"m":"b"},{"lg":7,"cM":26.8,"m":"r"},{"lg":7,"cM":28.0,"m":"r"},{"lg":7,"cM":28.6,"m":"r"},{"lg":7,"cM":29.6,"m":"r"},{"lg":7,"cM":33.0,"m":"r"},{"lg":7,"cM":36.5,"m":"r"},{"lg":7,"cM":38.0,"m":"b"},{"lg":7,"cM":40.1,"m":"b"},{"lg":7,"cM":41.3,"m":"r"},{"lg":7,"cM":42.0,"m":"b"},{"lg":7,"cM":42.6,"m":"r"},{"lg":7,"cM":45.1,"m":"r"},{"lg":7,"cM":48.5,"m":"r"},{"lg":7,"cM":49.9,"m":"r"},{"lg":7,"cM":52.7,"m":"b"},{"lg":7,"cM":55.2,"m":"b"},{"lg":7,"cM":58.4,"m":"r"},{"lg":7,"cM":58.9,"m":"r"},{"lg":7,"cM":59.4,"m":"r"},{"lg":7,"cM":60.2,"m":"r"},{"lg":7,"cM":62.9,"m":"r"},{"lg":7,"cM":64.4,"m":"r"},{"lg":7,"cM":65.6,"m":"r"},{"lg":7,"cM":66.4,"m":"b"},{"lg":7,"cM":66.9,"m":"b"},{"lg":7,"cM":69.4,"m":"r"},{"lg":7,"cM":69.9,"m":"r"},{"lg":7,"cM":70.9,"m":"r"},{"lg":7,"cM":71.4,"m":"r"},{"lg":7,"cM":72.4,"m":"b"},{"lg":7,"cM":73.2,"m":"b"},{"lg":7,"cM":74.1,"m":"b"},{"lg":7,"cM":76.4,"m":"r"},{"lg":7,"cM":76.9,"m":"r"},{"lg":7,"cM":78.1,"m":"r"},{"lg":7,"cM":78.4,"m":"r"},{"lg":7,"cM":80.2,"m":"b"},{"lg":7,"cM":81.9,"m":"b"},{"lg":7,"cM":82.4,"m":"r"},{"lg":7,"cM":83.4,"m":"b"},{"lg":7,"cM":84.3,"m":"r"},{"lg":7,"cM":85.1,"m":"r"},{"lg":7,"cM":85.5,"m":"r"},{"lg":7,"cM":87.5,"m":"r"},{"lg":7,"cM":88.0,"m":"r"},{"lg":7,"cM":88.5,"m":"r"},{"lg":7,"cM":90.3,"m":"r"},{"lg":7,"cM":91.5,"m":"b"},{"lg":7,"cM":92.2,"m":"r"},{"lg":7,"cM":92.7,"m":"r"},{"lg":7,"cM":93.5,"m":"b"},{"lg":7,"cM":94.3,"m":"b"},{"lg":7,"cM":96.0,"m":"r"},{"lg":7,"cM":97.5,"m":"r"},{"lg":7,"cM":98.0,"m":"r"},{"lg":7,"cM":98.5,"m":"r"},{"lg":7,"cM":99.5,"m":"r"},{"lg":7,"cM":100.3,"m":"r"},{"lg":7,"cM":101.0,"m":"r"},{"lg":7,"cM":102.7,"m":"r"},{"lg":7,"cM":103.3,"m":"r"},{"lg":7,"cM":104.0,"m":"r"},{"lg":7,"cM":104.5,"m":"b"},{"lg":7,"cM":107.0,"m":"r"},{"lg":7,"cM":110.0,"m":"r"},{"lg":7,"cM":111.7,"m":"b"},{"lg":7,"cM":112.3,"m":"r"},{"lg":7,"cM":115.0,"m":"b"},{"lg":7,"cM":115.5,"m":"b"},{"lg":7,"cM":116.5,"m":"r"},{"lg":7,"cM":117.1,"m":"r"},{"lg":7,"cM":117.8,"m":"r"},{"lg":7,"cM":118.6,"m":"b"},{"lg":7,"cM":121.1,"m":"r"},{"lg":7,"cM":121.8,"m":"r"},{"lg":7,"cM":123.1,"m":"r"},{"lg":7,"cM":123.6,"m":"r"},{"lg":7,"cM":126.6,"m":"r"},{"lg":7,"cM":127.1,"m":"r"},{"lg":7,"cM":128.6,"m":"b"},{"lg":7,"cM":129.1,"m":"r"},{"lg":7,"cM":132.6,"m":"r"},{"lg":7,"cM":134.6,"m":"r"},{"lg":7,"cM":135.1,"m":"r"},{"lg":7,"cM":138.4,"m":"b"},{"lg":7,"cM":140.1,"m":"r"},{"lg":7,"cM":141.1,"m":"r"},{"lg":7,"cM":142.1,"m":"r"},{"lg":7,"cM":142.6,"m":"r"},{"lg":7,"cM":143.8,"m":"b"},{"lg":7,"cM":147.1,"m":"r"},{"lg":7,"cM":147.8,"m":"r"},{"lg":7,"cM":148.3,"m":"r"},{"lg":7,"cM":149.2,"m":"b"},{"lg":7,"cM":150.2,"m":"b"},{"lg":7,"cM":154.5,"m":"b"},
{"lg":8,"cM":0,"m":"r"},{"lg":8,"cM":0.7,"m":"r"},{"lg":8,"cM":1.4,"m":"r"},{"lg":8,"cM":2.0,"m":"b"},{"lg":8,"cM":2.5,"m":"r"},{"lg":8,"cM":2.9,"m":"b"},{"lg":8,"cM":5.9,"m":"r"},{"lg":8,"cM":7.1,"m":"r"},{"lg":8,"cM":8.9,"m":"r"},{"lg":8,"cM":9.6,"m":"r"},{"lg":8,"cM":10.6,"m":"r"},{"lg":8,"cM":11.1,"m":"r"},{"lg":8,"cM":12.2,"m":"r"},{"lg":8,"cM":13.2,"m":"b"},{"lg":8,"cM":15.2,"m":"r"},{"lg":8,"cM":16.5,"m":"r"},{"lg":8,"cM":17.0,"m":"r"},{"lg":8,"cM":19.3,"m":"r"},{"lg":8,"cM":22.7,"m":"r"},{"lg":8,"cM":23.4,"m":"r"},{"lg":8,"cM":24.4,"m":"b"},{"lg":8,"cM":24.9,"m":"r"},{"lg":8,"cM":25.9,"m":"r"},{"lg":8,"cM":26.9,"m":"r"},{"lg":8,"cM":27.9,"m":"b"},{"lg":8,"cM":29.0,"m":"r"},{"lg":8,"cM":31.0,"m":"r"},{"lg":8,"cM":33.1,"m":"b"},{"lg":8,"cM":33.4,"m":"b"},{"lg":8,"cM":35.3,"m":"r"},{"lg":8,"cM":39.5,"m":"r"},{"lg":8,"cM":40.4,"m":"b"},{"lg":8,"cM":42.7,"m":"r"},{"lg":8,"cM":43.9,"m":"r"},{"lg":8,"cM":45.6,"m":"r"},{"lg":8,"cM":46.4,"m":"b"},{"lg":8,"cM":48.1,"m":"r"},{"lg":8,"cM":49.6,"m":"b"},{"lg":8,"cM":53.0,"m":"r"},{"lg":8,"cM":55.5,"m":"r"},{"lg":8,"cM":59.3,"m":"r"},{"lg":8,"cM":61.4,"m":"b"},{"lg":8,"cM":61.9,"m":"b"},{"lg":8,"cM":63.4,"m":"r"},{"lg":8,"cM":63.9,"m":"r"},{"lg":8,"cM":66.4,"m":"b"},{"lg":8,"cM":68.3,"m":"r"},{"lg":8,"cM":70.0,"m":"b"},{"lg":8,"cM":70.5,"m":"b"},{"lg":8,"cM":73.3,"m":"b"},{"lg":8,"cM":73.8,"m":"b"},{"lg":8,"cM":74.3,"m":"r"},{"lg":8,"cM":75.1,"m":"r"},{"lg":8,"cM":76.2,"m":"r"},{"lg":8,"cM":80.0,"m":"b"},{"lg":8,"cM":82.0,"m":"r"},{"lg":8,"cM":82.9,"m":"r"},{"lg":8,"cM":84.2,"m":"r"},{"lg":8,"cM":85.1,"m":"r"},{"lg":8,"cM":85.6,"m":"b"},{"lg":8,"cM":86.1,"m":"r"},{"lg":8,"cM":87.9,"m":"r"},{"lg":8,"cM":91.3,"m":"r"},{"lg":8,"cM":91.9,"m":"r"},{"lg":8,"cM":92.7,"m":"b"},{"lg":8,"cM":93.2,"m":"r"},{"lg":8,"cM":97.0,"m":"b"},{"lg":8,"cM":99.0,"m":"r"},{"lg":8,"cM":100.4,"m":"r"},{"lg":8,"cM":107.1,"m":"r"},{"lg":8,"cM":107.7,"m":"r"},{"lg":8,"cM":108.3,"m":"r"},{"lg":8,"cM":109.5,"m":"b"},{"lg":8,"cM":110.3,"m":"r"},{"lg":8,"cM":111.3,"m":"r"},{"lg":8,"cM":112.0,"m":"b"},{"lg":8,"cM":112.8,"m":"r"},{"lg":8,"cM":113.6,"m":"r"},{"lg":8,"cM":114.6,"m":"r"},{"lg":8,"cM":115.6,"m":"r"},{"lg":8,"cM":117.7,"m":"b"},{"lg":8,"cM":118.2,"m":"b"},{"lg":8,"cM":118.7,"m":"b"},{"lg":8,"cM":119.2,"m":"b"},{"lg":8,"cM":120.2,"m":"r"},{"lg":8,"cM":122.9,"m":"b"},{"lg":8,"cM":124.6,"m":"r"},{"lg":8,"cM":125.6,"m":"r"},{"lg":8,"cM":126.6,"m":"r"},{"lg":8,"cM":129.6,"m":"r"},{"lg":8,"cM":130.6,"m":"r"},{"lg":8,"cM":131.1,"m":"r"},{"lg":8,"cM":133.5,"m":"b"},{"lg":8,"cM":134.5,"m":"b"},{"lg":8,"cM":135.0,"m":"b"},{"lg":8,"cM":136.5,"m":"r"},{"lg":8,"cM":137.2,"m":"r"},{"lg":8,"cM":138.5,"m":"b"},{"lg":8,"cM":140.2,"m":"r"},{"lg":8,"cM":142.2,"m":"r"},{"lg":8,"cM":146.4,"m":"r"},{"lg":8,"cM":146.9,"m":"r"},{"lg":8,"cM":151.8,"m":"r"},
{"lg":9,"cM":0,"m":"r"},{"lg":9,"cM":1.4,"m":"b"},{"lg":9,"cM":2.9,"m":"r"},{"lg":9,"cM":3.2,"m":"r"},{"lg":9,"cM":3.8,"m":"r"},{"lg":9,"cM":4.2,"m":"r"},{"lg":9,"cM":5.2,"m":"r"},{"lg":9,"cM":6.2,"m":"r"},{"lg":9,"cM":7.8,"m":"r"},{"lg":9,"cM":8.2,"m":"b"},{"lg":9,"cM":8.6,"m":"b"},{"lg":9,"cM":9.9,"m":"r"},{"lg":9,"cM":10.3,"m":"r"},{"lg":9,"cM":11.0,"m":"b"},{"lg":9,"cM":13.5,"m":"b"},{"lg":9,"cM":14.3,"m":"r"},{"lg":9,"cM":15.1,"m":"r"},{"lg":9,"cM":16.0,"m":"b"},{"lg":9,"cM":18.6,"m":"r"},{"lg":9,"cM":19.2,"m":"r"},{"lg":9,"cM":22.8,"m":"b"},{"lg":9,"cM":23.4,"m":"r"},{"lg":9,"cM":23.9,"m":"r"},{"lg":9,"cM":24.3,"m":"b"},{"lg":9,"cM":26.8,"m":"b"},{"lg":9,"cM":31.3,"m":"r"},{"lg":9,"cM":32.3,"m":"b"},{"lg":9,"cM":34.6,"m":"r"},{"lg":9,"cM":38.2,"m":"b"},{"lg":9,"cM":39.5,"m":"r"},{"lg":9,"cM":40.4,"m":"r"},{"lg":9,"cM":41.7,"m":"b"},{"lg":9,"cM":42.4,"m":"r"},{"lg":9,"cM":42.9,"m":"r"},{"lg":9,"cM":43.5,"m":"r"},{"lg":9,"cM":43.9,"m":"r"},{"lg":9,"cM":44.5,"m":"r"},{"lg":9,"cM":46.2,"m":"r"},{"lg":9,"cM":47.1,"m":"b"},{"lg":9,"cM":47.7,"m":"r"},{"lg":9,"cM":48.3,"m":"r"},{"lg":9,"cM":48.8,"m":"r"},{"lg":9,"cM":49.3,"m":"r"},{"lg":9,"cM":50.9,"m":"r"},{"lg":9,"cM":53.2,"m":"b"},{"lg":9,"cM":53.8,"m":"r"},{"lg":9,"cM":54.3,"m":"r"},{"lg":9,"cM":54.7,"m":"r"},{"lg":9,"cM":55.3,"m":"r"},{"lg":9,"cM":55.9,"m":"b"},{"lg":9,"cM":56.6,"m":"b"},{"lg":9,"cM":57.4,"m":"r"},{"lg":9,"cM":59.4,"m":"r"},{"lg":9,"cM":61.9,"m":"r"},{"lg":9,"cM":62.3,"m":"r"},{"lg":9,"cM":62.9,"m":"r"},{"lg":9,"cM":63.5,"m":"b"},{"lg":9,"cM":65.0,"m":"b"},{"lg":9,"cM":65.5,"m":"r"},{"lg":9,"cM":66.0,"m":"r"},{"lg":9,"cM":66.5,"m":"r"},{"lg":9,"cM":67.3,"m":"r"},{"lg":9,"cM":67.8,"m":"b"},{"lg":9,"cM":68.4,"m":"r"},{"lg":9,"cM":68.8,"m":"r"},{"lg":9,"cM":71.1,"m":"r"},{"lg":9,"cM":74.1,"m":"r"},{"lg":9,"cM":75.6,"m":"r"},{"lg":9,"cM":76.2,"m":"r"},{"lg":9,"cM":76.8,"m":"r"},{"lg":9,"cM":77.1,"m":"r"},{"lg":9,"cM":77.7,"m":"r"},{"lg":9,"cM":78.3,"m":"r"},{"lg":9,"cM":80.9,"m":"b"},{"lg":9,"cM":81.5,"m":"b"},{"lg":9,"cM":82.7,"m":"r"},{"lg":9,"cM":84.0,"m":"r"},{"lg":9,"cM":87.0,"m":"b"},{"lg":9,"cM":88.2,"m":"r"},{"lg":9,"cM":89.1,"m":"r"},{"lg":9,"cM":90.1,"m":"b"},{"lg":9,"cM":90.7,"m":"r"},{"lg":9,"cM":91.4,"m":"b"},{"lg":9,"cM":92.0,"m":"b"},{"lg":9,"cM":92.7,"m":"b"},{"lg":9,"cM":95.0,"m":"r"},{"lg":9,"cM":96.5,"m":"b"},{"lg":9,"cM":98.4,"m":"b"},{"lg":9,"cM":98.8,"m":"b"},{"lg":9,"cM":99.9,"m":"r"},{"lg":9,"cM":101.1,"m":"b"},{"lg":9,"cM":102.0,"m":"r"},{"lg":9,"cM":102.6,"m":"b"},{"lg":9,"cM":103.2,"m":"b"},{"lg":9,"cM":103.8,"m":"r"},{"lg":9,"cM":104.1,"m":"b"},{"lg":9,"cM":104.7,"m":"r"},{"lg":9,"cM":105.8,"m":"b"},{"lg":9,"cM":107.9,"m":"r"},{"lg":9,"cM":109.5,"m":"r"},{"lg":9,"cM":110.4,"m":"r"},{"lg":9,"cM":111.0,"m":"r"},{"lg":9,"cM":112.0,"m":"b"},{"lg":9,"cM":112.5,"m":"b"},{"lg":9,"cM":113.1,"m":"b"},{"lg":9,"cM":113.7,"m":"r"},{"lg":9,"cM":114.0,"m":"r"},{"lg":9,"cM":115.5,"m":"r"},{"lg":9,"cM":116.3,"m":"r"},
{"lg":10,"cM":0,"m":"r"},{"lg":10,"cM":3.1,"m":"r"},{"lg":10,"cM":3.8,"m":"r"},{"lg":10,"cM":4.3,"m":"b"},{"lg":10,"cM":4.8,"m":"r"},{"lg":10,"cM":5.6,"m":"b"},{"lg":10,"cM":6.2,"m":"r"},{"lg":10,"cM":6.9,"m":"r"},{"lg":10,"cM":7.6,"m":"r"},{"lg":10,"cM":8.5,"m":"b"},{"lg":10,"cM":8.8,"m":"b"},{"lg":10,"cM":9.5,"m":"r"},{"lg":10,"cM":11.7,"m":"b"},{"lg":10,"cM":13.1,"m":"b"},{"lg":10,"cM":15.1,"m":"r"},{"lg":10,"cM":15.9,"m":"r"},{"lg":10,"cM":16.7,"m":"b"},{"lg":10,"cM":17.2,"m":"b"},{"lg":10,"cM":17.7,"m":"r"},{"lg":10,"cM":18.8,"m":"r"},{"lg":10,"cM":20.3,"m":"r"},{"lg":10,"cM":21.0,"m":"r"},{"lg":10,"cM":21.8,"m":"b"},{"lg":10,"cM":22.9,"m":"b"},{"lg":10,"cM":23.4,"m":"b"},{"lg":10,"cM":24.4,"m":"r"},{"lg":10,"cM":25.1,"m":"b"},{"lg":10,"cM":25.8,"m":"b"},{"lg":10,"cM":26.5,"m":"b"},{"lg":10,"cM":27.3,"m":"r"},{"lg":10,"cM":28.2,"m":"b"},{"lg":10,"cM":32.2,"m":"r"},{"lg":10,"cM":34.9,"m":"b"},{"lg":10,"cM":35.9,"m":"b"},{"lg":10,"cM":37.3,"m":"r"},{"lg":10,"cM":40.2,"m":"r"},{"lg":10,"cM":40.9,"m":"r"},{"lg":10,"cM":41.6,"m":"r"},{"lg":10,"cM":42.7,"m":"b"},{"lg":10,"cM":43.5,"m":"b"},{"lg":10,"cM":45.3,"m":"b"},{"lg":10,"cM":48.4,"m":"r"},{"lg":10,"cM":51.2,"m":"r"},{"lg":10,"cM":52.3,"m":"b"},{"lg":10,"cM":53.3,"m":"r"},{"lg":10,"cM":55.3,"m":"r"},{"lg":10,"cM":56.1,"m":"r"},{"lg":10,"cM":58.7,"m":"r"},{"lg":10,"cM":61.5,"m":"b"},{"lg":10,"cM":62.5,"m":"r"},{"lg":10,"cM":63.3,"m":"r"},{"lg":10,"cM":64.1,"m":"r"},{"lg":10,"cM":65.1,"m":"b"},{"lg":10,"cM":65.6,"m":"b"},{"lg":10,"cM":66.4,"m":"b"},{"lg":10,"cM":67.4,"m":"b"},{"lg":10,"cM":68.2,"m":"b"},{"lg":10,"cM":68.8,"m":"r"},{"lg":10,"cM":71.3,"m":"r"},{"lg":10,"cM":71.5,"m":"b"},{"lg":10,"cM":71.8,"m":"r"},{"lg":10,"cM":75.4,"m":"r"},{"lg":10,"cM":76.0,"m":"r"},{"lg":10,"cM":76.5,"m":"r"},{"lg":10,"cM":79.4,"m":"r"},{"lg":10,"cM":80.4,"m":"b"},{"lg":10,"cM":81.8,"m":"r"},{"lg":10,"cM":83.5,"m":"r"},{"lg":10,"cM":85.2,"m":"r"},{"lg":10,"cM":85.7,"m":"b"},{"lg":10,"cM":86.3,"m":"b"},{"lg":10,"cM":87.4,"m":"r"},{"lg":10,"cM":88.1,"m":"r"},{"lg":10,"cM":89.0,"m":"r"},{"lg":10,"cM":89.9,"m":"r"},{"lg":10,"cM":90.7,"m":"r"},{"lg":10,"cM":91.4,"m":"r"},{"lg":10,"cM":92.4,"m":"r"},{"lg":10,"cM":93.0,"m":"r"},{"lg":10,"cM":93.8,"m":"b"},{"lg":10,"cM":94.8,"m":"b"},{"lg":10,"cM":96.3,"m":"r"},{"lg":10,"cM":98.6,"m":"r"},{"lg":10,"cM":101.7,"m":"b"},{"lg":10,"cM":103.8,"m":"r"},{"lg":10,"cM":104.3,"m":"r"},{"lg":10,"cM":105.5,"m":"b"},{"lg":10,"cM":108.4,"m":"b"},{"lg":10,"cM":109.2,"m":"r"},{"lg":10,"cM":110.5,"m":"r"},{"lg":10,"cM":112.0,"m":"r"},{"lg":10,"cM":114.8,"m":"r"},{"lg":10,"cM":118.7,"m":"b"},{"lg":10,"cM":120.3,"m":"r"},{"lg":10,"cM":121.3,"m":"b"},{"lg":10,"cM":122.3,"m":"b"},{"lg":10,"cM":123.4,"m":"r"},{"lg":10,"cM":124.4,"m":"r"},{"lg":10,"cM":124.9,"m":"r"},{"lg":10,"cM":125.7,"m":"r"},{"lg":10,"cM":126.1,"m":"r"},{"lg":10,"cM":127.0,"m":"r"},{"lg":10,"cM":128.2,"m":"r"},{"lg":10,"cM":128.7,"m":"r"},{"lg":10,"cM":129.5,"m":"r"},{"lg":10,"cM":130.3,"m":"r"},{"lg":10,"cM":131.1,"m":"b"},{"lg":10,"cM":134.0,"m":"r"},{"lg":10,"cM":134.7,"m":"b"},{"lg":10,"cM":135.7,"m":"r"},{"lg":10,"cM":136.2,"m":"r"},{"lg":10,"cM":136.8,"m":"r"},{"lg":10,"cM":137.8,"m":"b"},{"lg":10,"cM":138.8,"m":"r"},{"lg":10,"cM":140.9,"m":"r"},{"lg":10,"cM":145.0,"m":"r"},{"lg":10,"cM":149.4,"m":"b"},{"lg":10,"cM":151.7,"m":"r"},{"lg":10,"cM":152.3,"m":"r"},{"lg":10,"cM":153.3,"m":"b"},{"lg":10,"cM":155.4,"m":"r"},{"lg":10,"cM":158.4,"m":"r"},
{"lg":11,"cM":0,"m":"r"},{"lg":11,"cM":2.7,"m":"r"},{"lg":11,"cM":3.8,"m":"b"},{"lg":11,"cM":4.2,"m":"r"},{"lg":11,"cM":7.0,"m":"r"},{"lg":11,"cM":10.3,"m":"b"},{"lg":11,"cM":12.5,"m":"r"},{"lg":11,"cM":14.8,"m":"r"},{"lg":11,"cM":16.1,"m":"r"},{"lg":11,"cM":16.7,"m":"r"},{"lg":11,"cM":17.1,"m":"r"},{"lg":11,"cM":17.5,"m":"r"},{"lg":11,"cM":18.7,"m":"r"},{"lg":11,"cM":19.7,"m":"r"},{"lg":11,"cM":20.3,"m":"r"},{"lg":11,"cM":21.4,"m":"b"},{"lg":11,"cM":22.2,"m":"b"},{"lg":11,"cM":22.6,"m":"r"},{"lg":11,"cM":23.2,"m":"r"},{"lg":11,"cM":25.2,"m":"b"},{"lg":11,"cM":25.8,"m":"b"},{"lg":11,"cM":26.5,"m":"r"},{"lg":11,"cM":27.1,"m":"r"},{"lg":11,"cM":27.7,"m":"r"},{"lg":11,"cM":28.4,"m":"r"},{"lg":11,"cM":29.2,"m":"b"},{"lg":11,"cM":29.7,"m":"r"},{"lg":11,"cM":30.7,"m":"r"},{"lg":11,"cM":32.0,"m":"r"},{"lg":11,"cM":33.2,"m":"b"},{"lg":11,"cM":34.5,"m":"b"},{"lg":11,"cM":35.8,"m":"r"},{"lg":11,"cM":37.0,"m":"b"},{"lg":11,"cM":37.7,"m":"r"},{"lg":11,"cM":38.3,"m":"r"},{"lg":11,"cM":39.0,"m":"b"},{"lg":11,"cM":43.4,"m":"r"},{"lg":11,"cM":44.3,"m":"r"},{"lg":11,"cM":44.9,"m":"r"},{"lg":11,"cM":45.5,"m":"r"},{"lg":11,"cM":46.4,"m":"r"},{"lg":11,"cM":48.1,"m":"b"},{"lg":11,"cM":48.9,"m":"r"},{"lg":11,"cM":49.3,"m":"r"},{"lg":11,"cM":50.0,"m":"r"},{"lg":11,"cM":50.9,"m":"b"},{"lg":11,"cM":52.6,"m":"r"},{"lg":11,"cM":54.4,"m":"b"},{"lg":11,"cM":56.1,"m":"b"},{"lg":11,"cM":57.0,"m":"b"},{"lg":11,"cM":57.6,"m":"r"},{"lg":11,"cM":58.5,"m":"b"},{"lg":11,"cM":59.1,"m":"r"},{"lg":11,"cM":59.5,"m":"r"},{"lg":11,"cM":60.8,"m":"r"},{"lg":11,"cM":61.6,"m":"r"},{"lg":11,"cM":62.2,"m":"r"},{"lg":11,"cM":62.7,"m":"r"},{"lg":11,"cM":63.8,"m":"r"},{"lg":11,"cM":64.2,"m":"r"},{"lg":11,"cM":64.8,"m":"r"},{"lg":11,"cM":65.5,"m":"b"},{"lg":11,"cM":65.9,"m":"b"},{"lg":11,"cM":66.3,"m":"b"},{"lg":11,"cM":67.8,"m":"r"},{"lg":11,"cM":68.4,"m":"r"},{"lg":11,"cM":69.0,"m":"r"},{"lg":11,"cM":69.7,"m":"b"},{"lg":11,"cM":71.1,"m":"r"},{"lg":11,"cM":72.7,"m":"b"},{"lg":11,"cM":74.4,"m":"r"},{"lg":11,"cM":74.8,"m":"r"},{"lg":11,"cM":75.8,"m":"b"},{"lg":11,"cM":76.3,"m":"b"},{"lg":11,"cM":76.9,"m":"r"},{"lg":11,"cM":77.3,"m":"r"},{"lg":11,"cM":78.2,"m":"b"},{"lg":11,"cM":78.8,"m":"r"},{"lg":11,"cM":79.4,"m":"b"},{"lg":11,"cM":79.9,"m":"b"},{"lg":11,"cM":80.5,"m":"r"},{"lg":11,"cM":81.1,"m":"b"},{"lg":11,"cM":82.2,"m":"r"},{"lg":11,"cM":84.8,"m":"r"},{"lg":11,"cM":86.2,"m":"r"},{"lg":11,"cM":88.5,"m":"r"},{"lg":11,"cM":89.4,"m":"b"},{"lg":11,"cM":90.5,"m":"r"},{"lg":11,"cM":92.4,"m":"b"},{"lg":11,"cM":93.6,"m":"r"},{"lg":11,"cM":94.0,"m":"r"},{"lg":11,"cM":94.7,"m":"r"},{"lg":11,"cM":95.1,"m":"r"},{"lg":11,"cM":96.0,"m":"r"},{"lg":11,"cM":97.2,"m":"r"},{"lg":11,"cM":98.5,"m":"b"},{"lg":11,"cM":102.6,"m":"r"},{"lg":11,"cM":104.0,"m":"b"},{"lg":11,"cM":105.5,"m":"r"},{"lg":11,"cM":109.1,"m":"r"},{"lg":11,"cM":110.8,"m":"b"},{"lg":11,"cM":111.2,"m":"b"},{"lg":11,"cM":111.7,"m":"r"},{"lg":11,"cM":112.2,"m":"r"},{"lg":11,"cM":114.6,"m":"b"},{"lg":11,"cM":115.3,"m":"b"},{"lg":11,"cM":116.5,"m":"r"},{"lg":11,"cM":117.6,"m":"r"},{"lg":11,"cM":118.0,"m":"r"},{"lg":11,"cM":119.0,"m":"b"},{"lg":11,"cM":121.0,"m":"b"},{"lg":11,"cM":121.6,"m":"r"},{"lg":11,"cM":123.3,"m":"r"},{"lg":11,"cM":130.3,"m":"b"},
{"lg":12,"cM":0,"m":"b"},{"lg":12,"cM":2.7,"m":"r"},{"lg":12,"cM":4.2,"m":"r"},{"lg":12,"cM":5.7,"m":"r"},{"lg":12,"cM":6.3,"m":"b"},{"lg":12,"cM":7.4,"m":"b"},{"lg":12,"cM":8.3,"m":"r"},{"lg":12,"cM":9.3,"m":"b"},{"lg":12,"cM":12.1,"m":"b"},{"lg":12,"cM":13.2,"m":"b"},{"lg":12,"cM":13.6,"m":"r"},{"lg":12,"cM":15.3,"m":"r"},{"lg":12,"cM":16.3,"m":"b"},{"lg":12,"cM":19.7,"m":"b"},{"lg":12,"cM":20.4,"m":"b"},{"lg":12,"cM":20.8,"m":"r"},{"lg":12,"cM":21.3,"m":"b"},{"lg":12,"cM":22.4,"m":"r"},{"lg":12,"cM":23.3,"m":"r"},{"lg":12,"cM":24.4,"m":"b"},{"lg":12,"cM":25.3,"m":"r"},{"lg":12,"cM":26.2,"m":"r"},{"lg":12,"cM":27.3,"m":"b"},{"lg":12,"cM":27.8,"m":"b"},{"lg":12,"cM":28.4,"m":"b"},{"lg":12,"cM":29.1,"m":"b"},{"lg":12,"cM":29.6,"m":"r"},{"lg":12,"cM":34.7,"m":"b"},{"lg":12,"cM":37.2,"m":"r"},{"lg":12,"cM":40.4,"m":"b"},{"lg":12,"cM":44.0,"m":"r"},{"lg":12,"cM":46.7,"m":"r"},{"lg":12,"cM":48.0,"m":"r"},{"lg":12,"cM":48.8,"m":"b"},{"lg":12,"cM":49.5,"m":"b"},{"lg":12,"cM":50.3,"m":"b"},{"lg":12,"cM":51.8,"m":"b"},{"lg":12,"cM":53.3,"m":"r"},{"lg":12,"cM":56.5,"m":"b"},{"lg":12,"cM":57.2,"m":"b"},{"lg":12,"cM":58.1,"m":"r"},{"lg":12,"cM":58.8,"m":"b"},{"lg":12,"cM":60.5,"m":"r"},{"lg":12,"cM":62.3,"m":"r"},{"lg":12,"cM":64.3,"m":"r"},{"lg":12,"cM":65.0,"m":"r"},{"lg":12,"cM":65.7,"m":"r"},{"lg":12,"cM":66.4,"m":"r"},{"lg":12,"cM":67.9,"m":"b"},{"lg":12,"cM":70.9,"m":"r"},{"lg":12,"cM":72.7,"m":"r"},{"lg":12,"cM":73.0,"m":"r"},{"lg":12,"cM":74.7,"m":"r"},{"lg":12,"cM":75.4,"m":"r"},{"lg":12,"cM":76.5,"m":"r"},{"lg":12,"cM":77.4,"m":"r"},{"lg":12,"cM":78.3,"m":"r"},{"lg":12,"cM":79.0,"m":"r"},{"lg":12,"cM":80.0,"m":"r"},{"lg":12,"cM":80.5,"m":"r"},{"lg":12,"cM":81.4,"m":"b"},{"lg":12,"cM":82.0,"m":"r"},{"lg":12,"cM":82.7,"m":"r"},{"lg":12,"cM":83.8,"m":"r"},{"lg":12,"cM":86.2,"m":"r"},{"lg":12,"cM":86.6,"m":"b"},{"lg":12,"cM":87.7,"m":"b"},{"lg":12,"cM":89.7,"m":"b"},{"lg":12,"cM":90.4,"m":"r"},{"lg":12,"cM":91.0,"m":"r"},{"lg":12,"cM":92.2,"m":"b"},{"lg":12,"cM":93.3,"m":"b"},{"lg":12,"cM":94.4,"m":"b"},{"lg":12,"cM":96.2,"m":"r"},{"lg":12,"cM":96.7,"m":"r"},{"lg":12,"cM":97.3,"m":"r"},{"lg":12,"cM":97.8,"m":"r"},{"lg":12,"cM":98.9,"m":"r"},{"lg":12,"cM":100.0,"m":"r"},{"lg":12,"cM":102.3,"m":"r"},{"lg":12,"cM":102.5,"m":"r"},{"lg":12,"cM":102.9,"m":"b"},{"lg":12,"cM":105.0,"m":"r"},{"lg":12,"cM":106.1,"m":"b"},{"lg":12,"cM":107.1,"m":"b"},{"lg":12,"cM":109.2,"m":"b"},{"lg":12,"cM":110.1,"m":"r"},{"lg":12,"cM":111.0,"m":"r"},{"lg":12,"cM":111.6,"m":"r"},{"lg":12,"cM":112.5,"m":"b"},{"lg":12,"cM":113.4,"m":"b"},{"lg":12,"cM":114.1,"m":"r"},{"lg":12,"cM":114.9,"m":"b"},{"lg":12,"cM":117.7,"m":"r"},{"lg":12,"cM":120.0,"m":"r"},{"lg":12,"cM":120.4,"m":"b"},{"lg":12,"cM":122.7,"m":"r"},{"lg":12,"cM":124.5,"m":"b"},{"lg":12,"cM":125.4,"m":"r"},{"lg":12,"cM":126.3,"m":"r"},{"lg":12,"cM":127.0,"m":"b"},{"lg":12,"cM":127.6,"m":"b"},{"lg":12,"cM":128.5,"m":"b"},{"lg":12,"cM":129.2,"m":"r"},{"lg":12,"cM":129.9,"m":"b"},{"lg":12,"cM":131.2,"m":"r"},{"lg":12,"cM":132.5,"m":"r"},{"lg":12,"cM":133.4,"m":"r"},{"lg":12,"cM":135.2,"m":"r"},{"lg":12,"cM":135.9,"m":"r"},{"lg":12,"cM":137.0,"m":"r"},{"lg":12,"cM":138.2,"m":"r"}
]
},
"layer":[
{"data":{"name":"groups"},
 "mark":{"type":"rule","color":"#000000","strokeWidth":1.6},
 "encoding":{
  "x":{"field":"lg","type":"ordinal","axis":null,"scale":{"type":"point","padding":0.53}},
  "y":{"field":"length","type":"quantitative","axis":null,"scale":{"domain":[-15.87,162.39],"reverse":true,"nice":false,"zero":false}},
  "y2":{"datum":0}}},
{"data":{"name":"markers"},
 "mark":{"type":"tick","orient":"horizontal","size":44,"thickness":1.5,"opacity":1},
 "encoding":{
  "x":{"field":"lg","type":"ordinal","axis":null},
  "y":{"field":"cM","type":"quantitative","axis":null},
  "color":{"field":"m","type":"nominal","legend":null,"scale":{"domain":["b","r"],"range":["#000000","#c0202a"]}}}},
{"data":{"name":"groups"},
 "mark":{"type":"text","fontSize":22,"baseline":"alphabetic","align":"center","color":"#000000"},
 "encoding":{
  "x":{"field":"lg","type":"ordinal","axis":null},
  "y":{"datum":-9.2,"type":"quantitative","axis":null},
  "text":{"field":"name"}}},
{"data":{"name":"groups"},
 "mark":{"type":"text","fontSize":18,"baseline":"alphabetic","align":"center","color":"#000000"},
 "encoding":{
  "x":{"field":"lg","type":"ordinal","axis":null},
  "y":{"datum":-2.8,"type":"quantitative","axis":null},
  "text":{"field":"label"}}}
]
}
